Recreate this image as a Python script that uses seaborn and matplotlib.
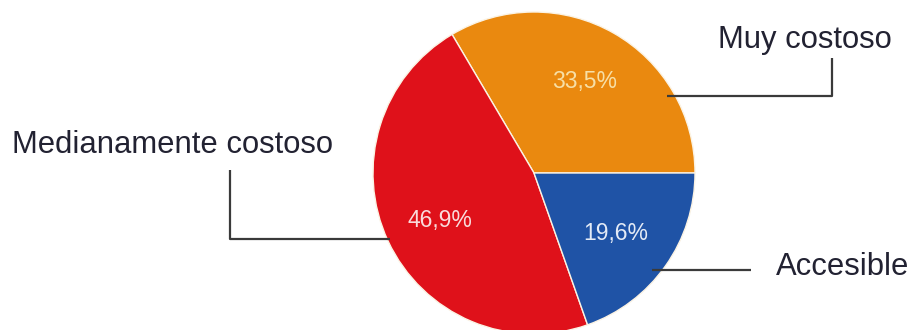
import matplotlib
matplotlib.use("Agg")
import matplotlib.pyplot as plt
import seaborn as sns

# Survey answers and their shares (percent)
categories = ["Muy costoso", "Medianamente costoso", "Accesible"]
shares = [33.5, 46.9, 19.6]
share_labels = ["33,5%", "46,9%", "19,6%"]

sns.set_theme(style="white")
plt.rcParams["font.family"] = ["Liberation Sans", "DejaVu Sans"]

palette = sns.color_palette(["#EA890F", "#DF111A", "#1F53A6"])
pct_colors = ["#F7DFA6", "#F9DCDC", "#E4EBF6"]

W, H = 913, 330
fig = plt.figure(figsize=(W / 100, H / 100), dpi=100)
ax = fig.add_axes([0, 0, 1, 1])


def Y(y):
    """Convert a top-down pixel row into the axes' upward y coordinate."""
    return H - y


cx, cy, r = 534, Y(173), 161
wedges, _ = ax.pie(
    shares,
    colors=palette,
    startangle=0,
    counterclock=True,
    center=(cx, cy),
    radius=r,
    wedgeprops=dict(edgecolor="#FBF3E4", linewidth=1.0),
)
ax.set_xlim(0, W)
ax.set_ylim(0, H)
ax.set_aspect("equal")
ax.axis("off")

# Percent labels inside the slices
pct_pos = [(585, 88), (440, 227), (616, 240)]
for lab, (px, py), col in zip(share_labels, pct_pos, pct_colors):
    ax.text(px, Y(py), lab, ha="center", va="baseline", fontsize=16.5, color=col)

# Leader lines from slices to the category names
line_kw = dict(color="#3a3a3a", linewidth=1.6, solid_capstyle="butt")
ax.plot([667, 832, 832], [Y(96), Y(96), Y(58)], **line_kw)
ax.plot([390, 230, 230], [Y(239), Y(239), Y(170)], **line_kw)
ax.plot([652, 751], [Y(270), Y(270)], **line_kw)

name_pos = [(718, 48), (12, 153), (776, 275)]
for name, (px, py) in zip(categories, name_pos):
    ax.text(px, Y(py), name, ha="left", va="baseline", fontsize=22.3, color="#222232")

fig.savefig("out.png", dpi=100, facecolor="white")
